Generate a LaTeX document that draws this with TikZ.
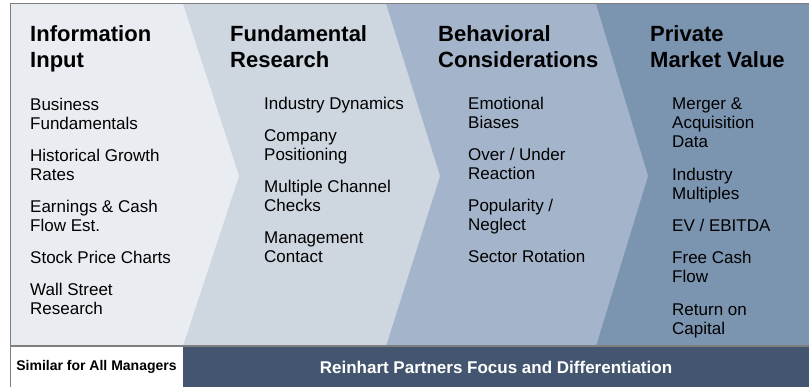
\documentclass[tikz,border=0pt]{standalone}
\usepackage{fontspec}
\setmainfont{Liberation Sans}
\definecolor{stageOne}{HTML}{E9EDF2}
\definecolor{stageTwo}{HTML}{CED6E0}
\definecolor{stageThree}{HTML}{A4B4CA}
\definecolor{stageFour}{HTML}{7B94B0}
\definecolor{bandBlue}{HTML}{44566F}
\definecolor{ruleGray}{HTML}{7F7F7F}

\begin{document}
\begin{tikzpicture}[
    x=1pt, y=-1pt,
    title_node/.style={anchor=base west, align=left, inner sep=0pt, font=\fontsize{22}{26}\selectfont\bfseries},
    item_node/.style={anchor=base west, align=left, inner sep=0pt, font=\fontsize{17}{19}\selectfont},
    band_node/.style={minimum height=40pt, inner sep=0pt, font=\bfseries},
    rule_line/.style={draw=ruleGray, line width=1.6pt}
]
    \useasboundingbox (0,0) rectangle (809,387);

    % chevron stages, back to front
    \fill[stageFour] (10,4) rectangle (809,346);
    \fill[stageThree] (10,4) -- (596,4) -- (648,176) -- (596,346) -- (10,346) -- cycle;
    \fill[stageTwo] (10,4) -- (386,4) -- (440,176) -- (386,346) -- (10,346) -- cycle;
    \fill[stageOne] (10,4) -- (183,4) -- (239,176) -- (183,346) -- (10,346) -- cycle;

    % titles (placed at baseline of last line)
    \node[title_node] (info) at (30,68) {Information\\Input};
    \node[title_node] (fund) at (230,68) {Fundamental\\Research};
    \node[title_node] (behav) at (438,68) {Behavioral\\Considerations};
    \node[title_node] (pmv) at (650,68) {Private\\Market Value};

    % information input
    \node[item_node] (busi) at (30,130) {Business\\Fundamentals};
    \node[item_node] (hist) at (30,181) {Historical Growth\\Rates};
    \node[item_node] (earn) at (30,232) {Earnings \& Cash\\Flow Est.};
    \node[item_node] (chart) at (30,264) {Stock Price Charts};
    \node[item_node] (wall) at (30,315) {Wall Street\\Research};

    % fundamental research
    \node[item_node] (dyn) at (264,110) {Industry Dynamics};
    \node[item_node] (pos) at (264,161) {Company\\Positioning};
    \node[item_node] (chan) at (264,212) {Multiple Channel\\Checks};
    \node[item_node] (mgmt) at (264,263) {Management\\Contact};

    % behavioral considerations
    \node[item_node] (emo) at (468,129) {Emotional\\Biases};
    \node[item_node] (react) at (468,180) {Over / Under\\Reaction};
    \node[item_node] (pop) at (468,231) {Popularity /\\Neglect};
    \node[item_node] (rot) at (468,263) {Sector Rotation};

    % private market value
    \node[item_node] (merger) at (672,148) {Merger \&\\Acquisition\\Data};
    \node[item_node] (mult) at (672,200) {Industry\\Multiples};
    \node[item_node] (ev) at (672,232) {EV / EBITDA};
    \node[item_node] (fcf) at (672,283) {Free Cash\\Flow};
    \node[item_node] (roc) at (672,335) {Return on\\Capital};

    % bottom band
    \node[band_node, fill=white, minimum width=173pt, font=\fontsize{14}{16}\selectfont\bfseries] (similar) at (96.5,367) {Similar for All Managers};
    \node[band_node, fill=bandBlue, text=white, minimum width=626pt, font=\fontsize{17}{19}\selectfont\bfseries] (focus) at (496,367) {Reinhart Partners Focus and Differentiation};

    % frame lines
    \draw[rule_line] (10,3.5) -- (809,3.5);
    \draw[rule_line] (10,346) -- (809,346);
    \draw[rule_line] (10.5,3) -- (10.5,387);
\end{tikzpicture}
\end{document}
